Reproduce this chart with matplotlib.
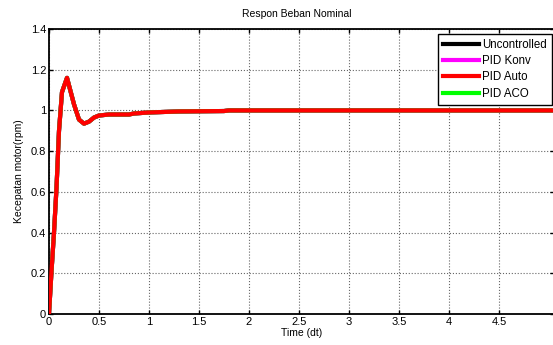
import numpy as np
import matplotlib
matplotlib.use("Agg")
import matplotlib.pyplot as plt

# Respon kecepatan motor
t = [0, 0.025, 0.05, 0.075, 0.1, 0.13, 0.18, 0.25, 0.3, 0.35, 0.4, 0.45,
     0.5, 0.6, 0.8, 0.85, 1.0, 1.3, 1.75, 1.8, 5.1]
y_resp = [0, 0.21, 0.4, 0.62, 0.9, 1.09, 1.16, 1.03, 0.955, 0.935, 0.945,
          0.965, 0.975, 0.98, 0.98, 0.985, 0.99, 0.995, 0.997, 1.0, 1.0]

labels = ["Uncontrolled", "PID Konv", "PID Auto", "PID ACO"]
colors = ["black", "magenta", "red", "lime"]

xticks = [0, 0.5, 1, 1.5, 2, 2.5, 3, 3.5, 4, 4.5]
xticklabels = ["0", "0.5", "1", "1.5", "2", "2.5", "3", "3.5", "4", "4.5"]
yticks = [0, 0.2, 0.4, 0.6, 0.8, 1, 1.2, 1.4]
yticklabels = ["0", "0.2", "0.4", "0.6", "0.8", "1", "1.2", "1.4"]

plt.rcParams["font.family"] = ["Liberation Sans", "DejaVu Sans"]

W, H = 553, 345
fig = plt.figure(figsize=(W / 100, H / 100), dpi=100)
ax = fig.add_axes([49 / W, 31 / H, 505 / W, 285 / H])

# alle Kurven liegen aufeinander, PID Auto oben
order = [0, 1, 3, 2]
handles = {}
for i in order:
    ln, = ax.plot(t, y_resp, color=colors[i], lw=3, label=labels[i],
                  zorder=3 if i == 2 else 2)
    handles[i] = ln

ax.set_xlim(0, 5.05)
ax.set_ylim(0, 1.4)
ax.set_xticks(xticks)
ax.set_xticklabels(xticklabels)
ax.set_yticks(yticks)
ax.set_yticklabels(yticklabels)
ax.tick_params(direction="in", length=3, width=1, labelsize=8, pad=2,
               top=True, right=True, colors="black")
ax.grid(True, color="0.4", ls=":", lw=0.8)
for s in ax.spines.values():
    s.set_linewidth(1.3)

ax.set_xlabel("Time (dt)", fontsize=7.5, labelpad=1)
ax.set_ylabel("Kecepatan motor(rpm)", fontsize=7.5, labelpad=5)
fig.text(297 / W, 1 - 14 / H, "Respon Beban Nominal", fontsize=7.5,
         ha="center", va="center")

leg = ax.legend([handles[i] for i in range(4)], labels,
                loc="upper left", bbox_to_anchor=(438 / W, 1 - 34 / H),
                bbox_transform=fig.transFigure, fontsize=8.3,
                handlelength=3.1, handletextpad=0.28, labelspacing=0.36,
                borderpad=0.45, borderaxespad=0, fancybox=False, framealpha=1,
                edgecolor="black")
leg.get_frame().set_linewidth(1.0)
leg.set_zorder(5)

fig.savefig("out.png", dpi=100)
